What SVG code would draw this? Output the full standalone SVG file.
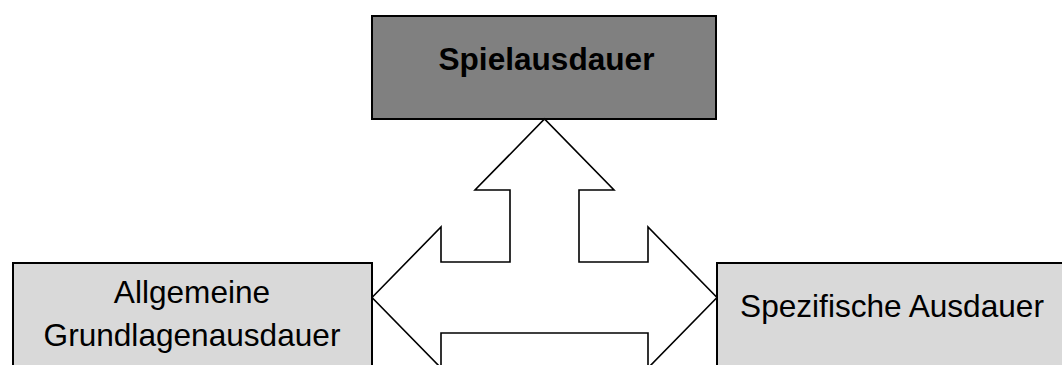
<svg xmlns="http://www.w3.org/2000/svg" width="1062" height="365" viewBox="0 0 1062 365">
  <style>
    .box { stroke: #000; stroke-width: 2; }
    .main { fill: #808080; }
    .side { fill: #d9d9d9; }
    .label { font-family: "Liberation Sans", Arial, sans-serif; font-size: 31.6px; fill: #000; text-anchor: middle; }
    .bold { font-weight: bold; }
    .arrow { fill: #fff; stroke: #000; stroke-width: 1.6; stroke-linejoin: miter; }
  </style>

  <!-- Top node -->
  <g id="spielausdauer">
    <rect class="box main" x="372" y="16" width="344" height="103"/>
    <text class="label bold" x="546.5" y="70">Spielausdauer</text>
  </g>

  <!-- Left node -->
  <g id="grundlagenausdauer">
    <rect class="box side" x="13" y="263" width="359" height="120"/>
    <text class="label" x="192" y="303">Allgemeine</text>
    <text class="label" x="192" y="346">Grundlagenausdauer</text>
  </g>

  <!-- Right node -->
  <g id="spezifische-ausdauer">
    <rect class="box side" x="717" y="263" width="360" height="120"/>
    <text class="label" x="892" y="317">Spezifische Ausdauer</text>
  </g>

  <!-- Three-way block arrow linking the nodes -->
  <g id="connectors">
    <polygon class="arrow" points="372,297.5 441,227 441,262 510,262 510,190 475,190 544.5,119 614,190 579,190 579,262 648,262 648,227 717,297.5 648,368 648,333 441,333 441,368"/>
  </g>
</svg>
